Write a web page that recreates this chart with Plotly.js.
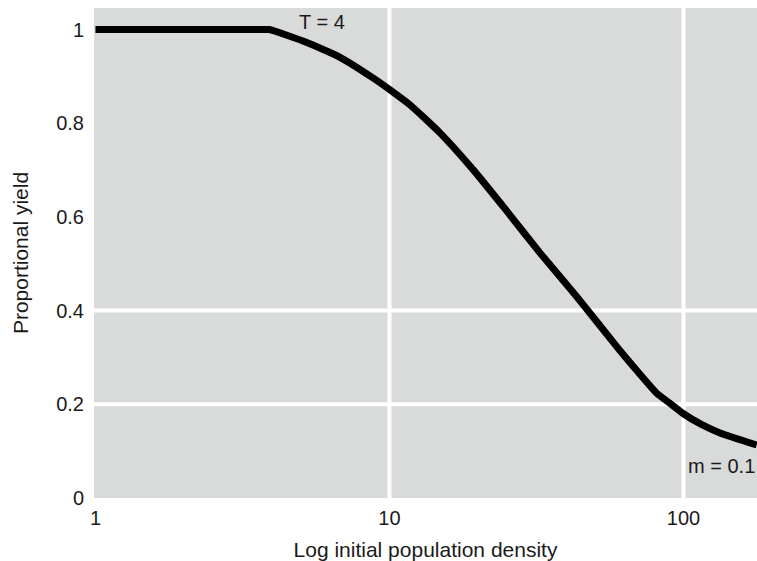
<!DOCTYPE html>
<html>
<head>
<meta charset="utf-8">
<script src="https://cdn.plot.ly/plotly-3.0.1.min.js"></script>
<style>html,body{margin:0;padding:0;background:#fff;}#chart{width:757px;height:561px;}</style>
</head>
<body>
<div id="chart"></div>
<script>
// Data
const density = [1, 2, 3.7, 3.9, 5.21, 6.79, 8.81, 10.04, 11.74, 14.85, 19.28, 25.04, 32.5, 43.3, 59.3, 67.5, 81.1, 89.9, 99.4, 115, 133.1, 177.4];
const proportionalYield = [1, 1, 1, 1, 0.9728, 0.9407, 0.8962, 0.8712, 0.8392, 0.7794, 0.7004, 0.6128, 0.5232, 0.4299, 0.3231, 0.2808, 0.2236, 0.2022, 0.1809, 0.1570, 0.1390, 0.1132];

const xTickVals = [1, 10, 100];
const xTickText = ['1', '10', '100'];
const yTickVals = [0, 0.2, 0.4, 0.6, 0.8, 1];
const yTickText = ['0', '0.2', '0.4', '0.6', '0.8', '1'];
const xGridVals = [10, 100];
const yGridVals = [0.2, 0.4];

const labelT = 'T = 4';
const labelM = 'm = 0.1';

const FONT = 'Liberation Sans, Arial, Helvetica, sans-serif';
const TEXT = '#1a1a1a';
const GRID = '#ffffff';
const xRange = [-0.005, 2.25];
const yRange = [0, 1.046];

const trace = {
  x: density,
  y: proportionalYield,
  type: 'scatter',
  mode: 'lines',
  line: {color: '#000000', width: 7, shape: 'spline', smoothing: 0.5},
  hoverinfo: 'skip',
  showlegend: false
};

const gridShapes = [];
xGridVals.forEach(v => gridShapes.push({
  type: 'line', layer: 'below', xref: 'x', yref: 'paper', x0: v, x1: v, y0: 0, y1: 1,
  line: {color: GRID, width: 4}
}));
yGridVals.forEach(v => gridShapes.push({
  type: 'line', layer: 'below', xref: 'paper', yref: 'y', x0: 0, x1: 1, y0: v, y1: v,
  line: {color: GRID, width: 4}
}));

const layout = {
  width: 757,
  height: 561,
  margin: {l: 94, r: 0, t: 8, b: 63, pad: 0},
  paper_bgcolor: '#ffffff',
  plot_bgcolor: '#d9dada',
  font: {family: FONT, size: 20, color: TEXT},
  showlegend: false,
  xaxis: {
    type: 'log',
    range: xRange,
    tickmode: 'array',
    tickvals: xTickVals,
    ticktext: xTickText,
    showgrid: false,
    zeroline: false,
    showline: false,
    ticks: '',
    ticklabelstandoff: 6,
    tickfont: {family: FONT, size: 20, color: TEXT},
    title: {text: 'Log initial population density', font: {family: FONT, size: 21, color: TEXT}, standoff: 18},
    automargin: false,
    fixedrange: true
  },
  yaxis: {
    range: yRange,
    tickmode: 'array',
    tickvals: yTickVals,
    ticktext: yTickText,
    showgrid: false,
    zeroline: false,
    showline: false,
    ticks: '',
    ticklabelstandoff: 9,
    tickfont: {family: FONT, size: 20, color: TEXT},
    title: {text: 'Proportional yield', font: {family: FONT, size: 21, color: TEXT}, standoff: 21},
    automargin: false,
    fixedrange: true
  },
  shapes: gridShapes,
  annotations: [
    {text: labelT, xref: 'x', yref: 'y', x: Math.log10(5.9), y: 1.016, xanchor: 'center', yanchor: 'middle', showarrow: false, font: {family: FONT, size: 20, color: TEXT}},
    {text: labelM, xref: 'paper', yref: 'y', x: 1, y: 0.068, xanchor: 'right', yanchor: 'middle', showarrow: false, font: {family: FONT, size: 20, color: TEXT}}
  ]
};

Plotly.newPlot('chart', [trace], layout, {staticPlot: true, displayModeBar: false});
</script>
</body>
</html>
